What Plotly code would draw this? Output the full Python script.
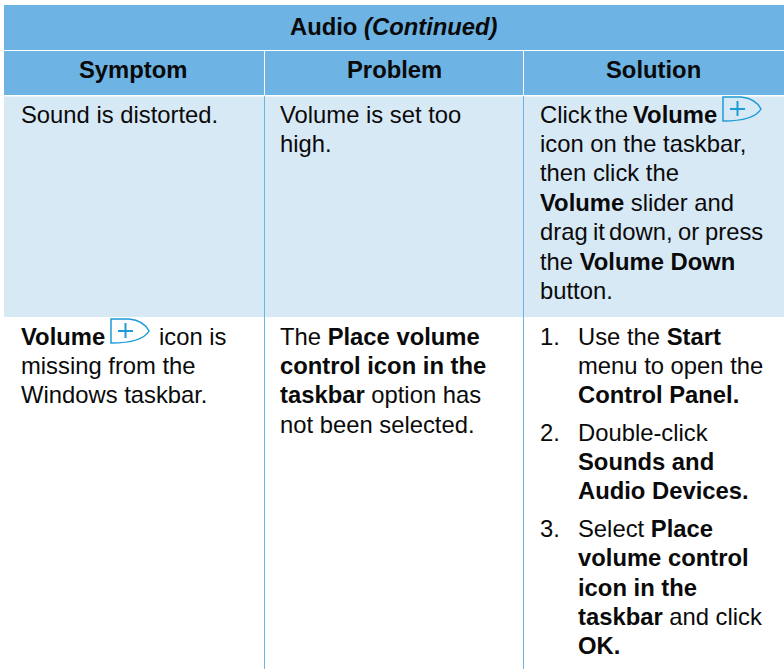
import plotly.graph_objects as go

W, H = 784, 669
FONT = "Liberation Sans"
SIZE = 23.8
HEAD = "#6DB3E3"
BAND = "#D8E9F6"
INK = "#0a0a0a"
ICON = "#1E9BD7"

title = "<b>Audio <i>(Continued)</i></b>"
columns = ["<b>Symptom</b>", "<b>Problem</b>", "<b>Solution</b>"]
column_centers = [133, 394, 653]

# (left x, centre y, text)
body_lines = [
    (20, 114, "Sound is distorted."),
    (279, 114, "Volume is set too"),
    (279, 143, "high."),
    (539, 114, "Click"),
    (594, 114, "the"),
    (632, 114, "<b>Volume</b>"),
    (539, 143, "icon on the taskbar,"),
    (539, 172, "then click the"),
    (539, 202, "<b>Volume</b> slider and"),
    (539, 231, "drag"),
    (592, 231, "it"),
    (608, 231, "down,"),
    (677, 231, "or"),
    (704, 231, "press"),
    (539, 261, "the <b>Volume Down</b>"),
    (539, 290, "button."),
    (20, 336, "<b>Volume</b>"),
    (158, 336, "icon is"),
    (20, 365, "missing from the"),
    (20, 394, "Windows taskbar."),
    (279, 336, "The <b>Place volume</b>"),
    (279, 365, "<b>control icon in the</b>"),
    (279, 394, "<b>taskbar</b> option has"),
    (279, 424, "not been selected."),
    (539, 336, "1."),
    (577, 336, "Use the <b>Start</b>"),
    (577, 365, "menu to open the"),
    (577, 394, "<b>Control Panel.</b>"),
    (539, 432, "2."),
    (577, 432, "Double-click"),
    (577, 461, "<b>Sounds and</b>"),
    (577, 490, "<b>Audio Devices.</b>"),
    (539, 528, "3."),
    (577, 528, "Select <b>Place</b>"),
    (577, 557, "<b>volume control</b>"),
    (577, 587, "<b>icon in the</b>"),
    (577, 616, "<b>taskbar</b> and click"),
    (577, 645, "<b>OK.</b>"),
]
icon_origins = [(723, 97), (111, 319)]


def rect(x0, y0, x1, y1, color):
    return dict(type="rect", x0=x0, y0=y0, x1=x1, y1=y1,
                fillcolor=color, line=dict(width=0), layer="below")


def line(x0, y0, x1, y1, color, width=1):
    return dict(type="line", x0=x0, y0=y0, x1=x1, y1=y1,
                line=dict(color=color, width=width), layer="below")


shapes = [
    rect(4, 5, W, 95.5, HEAD),
    rect(4, 96.5, W, 317, BAND),
    line(4, 50.5, W, 50.5, "white", 1),
    line(4, 95.5, W, 95.5, "white", 1),
    line(264.5, 51, 264.5, 95, "white", 1),
    line(523.5, 51, 523.5, 95, "white", 1),
    line(264.5, 96, 264.5, 669, HEAD, 1),
    line(523.5, 96, 523.5, 669, HEAD, 1),
]
for ox, oy in icon_origins:
    shapes.append(dict(
        type="path",
        path=(f"M {ox} {oy} L {ox+18} {oy} C {ox+28} {oy+1}, {ox+35} {oy+6}, {ox+38} {oy+12} "
              f"C {ox+34} {oy+19}, {ox+24} {oy+24}, {ox} {oy+24} Z"),
        line=dict(color=ICON, width=1.5), fillcolor="rgba(0,0,0,0)"))
    shapes.append(line(ox + 7, oy + 12, ox + 22, oy + 12, ICON, 2) | {"layer": "above"})
    shapes.append(line(ox + 14.5, oy + 4, ox + 14.5, oy + 19, ICON, 2) | {"layer": "above"})


def note(x, y, text, anchor="left"):
    return dict(x=x, y=y, text=text, xanchor=anchor, yanchor="middle", showarrow=False,
                xref="x", yref="y", align=anchor, borderpad=0,
                font=dict(family=FONT, size=SIZE, color=INK))


annotations = [note(394, 26, title, "center")]
annotations += [note(x, 69, c, "center") for x, c in zip(column_centers, columns)]
annotations += [note(x, y, t) for x, y, t in body_lines]

fig = go.Figure()
fig.update_layout(
    width=W, height=H, autosize=False,
    margin=dict(l=0, r=0, t=0, b=0),
    paper_bgcolor="white", plot_bgcolor="white",
    showlegend=False,
    xaxis=dict(range=[0, W], visible=False, fixedrange=True),
    yaxis=dict(range=[H, 0], visible=False, fixedrange=True),
    shapes=shapes, annotations=annotations,
)
fig.write_html("out.html", config=dict(displayModeBar=False),
               post_script="document.body.style.margin='0';document.body.style.overflow='hidden';")
